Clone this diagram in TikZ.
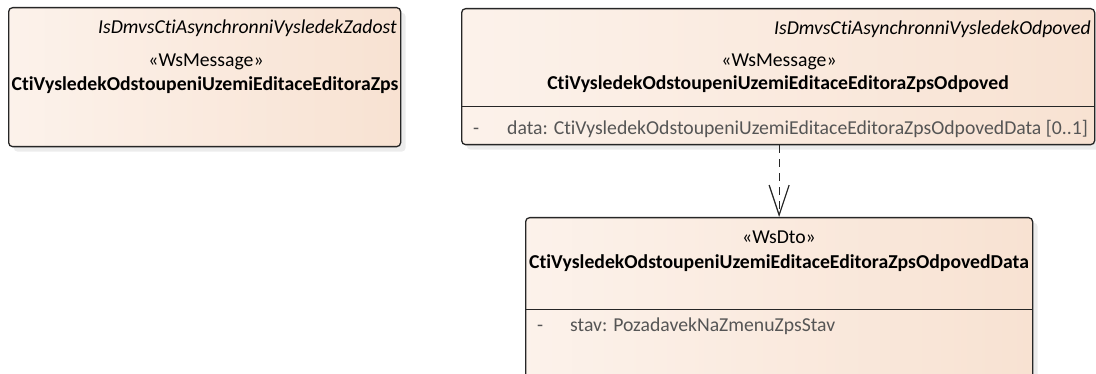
\documentclass[tikz,border=0pt]{standalone}
\usepackage{fontspec}
\setmainfont[Ligatures = NoCommon]{Carlito}
\usetikzlibrary{arrows.meta,shadows,positioning}
\definecolor{peach}{RGB}{248,226,210}
\definecolor{attrgray}{RGB}{85,85,85}

\begin{document}
\begin{tikzpicture}[
    x = 1pt, y = -1pt,
    classbox/.style = {
        draw = black!85,
        line width = 1.3pt,
        rounded corners = 4pt,
        left color = peach!45!white,
        right color = peach,
        drop shadow = {shadow xshift = 5pt, shadow yshift = -5pt, fill = black!15},
        inner sep = 0pt,
        anchor = north west
    },
    every node/.append style = {font = \fontsize{19.7}{23}\selectfont},
    txt/.style = {inner sep = 0pt, anchor = base},
    pkg/.style = {txt, anchor = base east, font = \fontsize{19.7}{23}\selectfont\itshape},
    classname/.style = {txt, font = \fontsize{19.7}{23}\selectfont\bfseries},
    attr/.style = {txt, anchor = base west, text = attrgray},
    compartment/.style = {draw = black!85, line width = 1pt},
    dependency/.style = {
        draw = black!85,
        line width = 1.2pt,
        dash pattern = on 8pt off 6pt,
        -{Straight Barb[length = 30pt, width = 20pt, line width = 1.2pt]}
    }
]

\useasboundingbox (0,0) rectangle (1096,374);
\clip (0,0) rectangle (1096,374);

% message boxes
\node[classbox, minimum width = 392pt, minimum height = 139pt] (zadost) at (8,7) {};
\node[classbox, minimum width = 633pt, minimum height = 136pt] (odpoved) at (461,8) {};
\node[classbox, minimum width = 507pt, minimum height = 190pt] (odpovedData) at (525,217) {};

% zadost
\node[pkg] (zadostPkg) at (397,34) {IsDmvsCtiAsynchronniVysledekZadost};
\node[txt] (zadostStereo) at (206,67) {«WsMessage»};
\node[classname] (zadostName) at (205,91) {CtiVysledekOdstoupeniUzemiEditaceEditoraZps};

% odpoved
\node[pkg] (odpovedPkg) at (1091,35) {IsDmvsCtiAsynchronniVysledekOdpoved};
\node[txt] (odpovedStereo) at (779,67) {«WsMessage»};
\node[classname] (odpovedName) at (778,90) {CtiVysledekOdstoupeniUzemiEditaceEditoraZpsOdpoved};
\draw[compartment] (odpoved.west |- 0,107) -- (odpoved.east |- 0,107);
\node[attr] (odpovedVis) at (473,135) {-};
\node[attr] (odpovedAttr) at (507,135) {data: CtiVysledekOdstoupeniUzemiEditaceEditoraZpsOdpovedData [0..1]};

% odpoved data
\node[txt] (dataStereo) at (779,244) {«WsDto»};
\node[classname] (dataName) at (779,269) {CtiVysledekOdstoupeniUzemiEditaceEditoraZpsOdpovedData};
\draw[compartment] (odpovedData.west |- 0,310) -- (odpovedData.east |- 0,310);
\node[attr] (dataVis) at (537,331) {-};
\node[attr] (dataAttr) at (570,331) {stav: PozadavekNaZmenuZpsStav};

\draw[dependency] (odpoved.south -| odpovedData.north) -- (odpovedData.north);

\end{tikzpicture}
\end{document}
